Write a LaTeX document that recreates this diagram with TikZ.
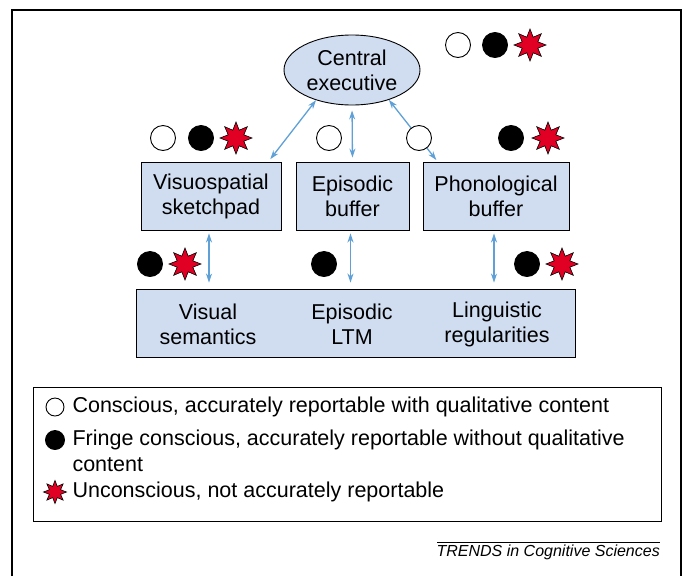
\documentclass[tikz,border=0pt]{standalone}
\usepackage{fontspec}
\setmainfont{Liberation Sans}
\usetikzlibrary{arrows.meta,shapes.geometric}

\definecolor{boxblue}{RGB}{208,221,240}
\definecolor{linkblue}{RGB}{95,160,215}
\definecolor{burstred}{RGB}{225,0,35}

\tikzset{
  txt/.style={font=\fontsize{21.5}{25}\selectfont, align=center},
  box/.style={txt, draw, line width=0.9pt, fill=boxblue, inner sep=0},
  link/.style={linkblue, line width=1.3pt, {Stealth[length=9pt,width=6pt]}-{Stealth[length=9pt,width=6pt]}},
  wdot/.style={circle, draw, line width=0.9pt, fill=white, minimum size=#1, inner sep=0},
  bdot/.style={circle, draw, line width=0.9pt, fill=black, minimum size=#1, inner sep=0},
  burst/.style={star, star points=8, star point ratio=1.9, draw, line width=0.6pt, fill=burstred, minimum size=#1, inner sep=0},
}

\begin{document}
\begin{tikzpicture}[x=1pt,y=-1pt]
  \useasboundingbox (0,0) rectangle (684,576);
  % outer frame, open at the bottom
  \draw[line width=1.2pt] (12,576) -- (12,10) -- (681,10) -- (681,576);

  \node[box, ellipse, minimum width=136, minimum height=70] (ce) at (352,70) {Central\\executive};
  \node[box, minimum width=140, minimum height=68] (vs) at (211,196) {Visuospatial\\sketchpad};
  \node[box, minimum width=113, minimum height=68] (eb) at (352.5,196) {Episodic\\buffer};
  \node[box, minimum width=146, minimum height=68] (pb) at (496,196) {Phonological\\buffer};
  \node[box, minimum width=439, minimum height=68] (lt) at (355.5,323) {};

  \node[txt] (vsem) at (208,324) {Visual\\semantics};
  \node[txt] (eltm) at (352,324) {Episodic\\LTM};
  \node[txt] (lreg) at (497,324) {Linguistic\\regularities};

  % links to the central executive
  \draw[link, shorten <=3pt] ([xshift=-13pt]vs.north east) -- (ce.220);
  \draw[link, shorten <=4pt, shorten >=5pt] (eb.north) -- (ce.south);
  \draw[link, shorten <=2pt] ([xshift=15pt]pb.north west) -- (ce.321);
  % links to long-term memory
  \foreach \u in {vs, eb, pb}
  {   \draw[link, shorten <=3pt, shorten >=6pt] ([xshift=-2pt]\u.south) -- ([xshift=-2pt]\u.south |- lt.north);
  }

  % awareness marks
  \foreach \x/\y [count=\i] in {458/45, 163/138, 329/138, 419/138}
  {   \node[wdot=25] (w\i) at (\x,\y) {};
  }
  \foreach \x/\y [count=\i] in {495/45, 201/138, 511/138, 150/264, 324/264, 527/264}
  {   \node[bdot=25] (b\i) at (\x,\y) {};
  }
  \foreach \x/\y [count=\i] in {530/45, 236/138, 548/138, 185/264, 562/264}
  {   \node[burst=32] (r\i) at (\x,\y) {};
  }

  % legend
  \draw[line width=0.9pt] (33,387) rectangle (661,521);
  \node[wdot=18] (lw) at (55,407) {};
  \node[bdot=19] (lb) at (55,440) {};
  \node[burst=23] (lr) at (55,492) {};
  \node[txt, anchor=west] (tw) at (69,407) {Conscious, accurately reportable with qualitative content};
  \node[txt, anchor=west] (tb) at (69,440) {Fringe conscious, accurately reportable without qualitative};
  \node[txt, anchor=west] (tb2) at (69,465) {content};
  \node[txt, anchor=west] (tr) at (69,492) {Unconscious, not accurately reportable};

  % journal mark
  \draw[line width=0.7pt] (437,542) -- (660,542);
  \node[font=\fontsize{16}{18}\selectfont\itshape, anchor=east, inner sep=0] (jn) at (660,552) {TRENDS in Cognitive Sciences};
\end{tikzpicture}
\end{document}
